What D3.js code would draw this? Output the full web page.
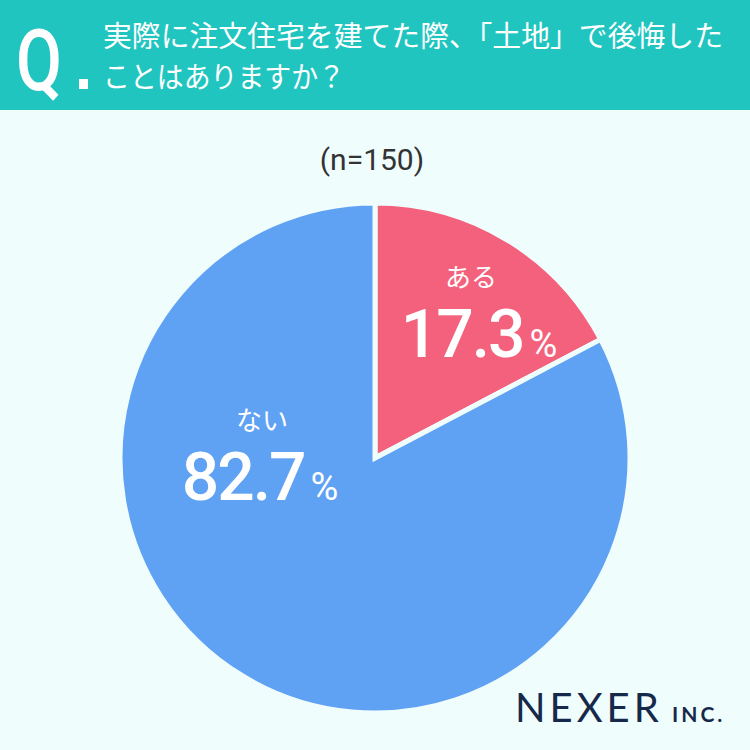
<!DOCTYPE html>
<html>
<head>
<meta charset="utf-8">
<script src="https://cdn.jsdelivr.net/npm/d3@7"></script>
<style>
  body { margin: 0; background: #effdfd; }
  svg { display: block; font-family: "Noto Sans CJK JP", "Noto Sans", sans-serif; }
</style>
</head>
<body>
<svg width="750" height="750"></svg>
<script>
// data
const labels = ["ある", "ない"];
const values = [17.3, 82.7];
const colors = ["#f4617d", "#5fa1f2"];
const sampleNote = "(n=150)";
const titleLines = ["実際に注文住宅を建てた際、「土地」で後悔した", "ことはありますか？"];

const svg = d3.select("svg");
const W = +svg.attr("width"), H = +svg.attr("height");

svg.append("rect").attr("width", W).attr("height", H).attr("fill", "#effdfd");

// header band
svg.append("rect")
  .attr("width", W).attr("height", 110)
  .attr("fill", "#21c5bf");

svg.append("text")
  .attr("x", 16).attr("y", 90)
  .attr("font-family", "Roboto, sans-serif")
  .attr("font-size", 86)
  .attr("font-weight", 500)
  .attr("fill", "#fff")
  .attr("textLength", 46)
  .attr("lengthAdjust", "spacingAndGlyphs")
  .text("Q");
svg.append("rect")
  .attr("x", 79).attr("y", 79).attr("width", 9).attr("height", 10)
  .attr("fill", "#fff");

svg.selectAll(".title")
  .data(titleLines)
  .enter().append("text")
  .attr("class", "title")
  .attr("x", 103)
  .attr("y", (d, i) => 47 + i * 41)
  .attr("font-size", 29)
  .attr("fill", "#fff")
  .attr("textLength", (d, i) => i ? 242 : 620)
  .attr("lengthAdjust", "spacingAndGlyphs")
  .text(d => d);

svg.append("text")
  .attr("x", 372).attr("y", 170)
  .attr("text-anchor", "middle")
  .attr("font-family", "Roboto, sans-serif")
  .attr("font-size", 30)
  .attr("fill", "#333")
  .text(sampleNote);

// pie
const cx = 375, cy = 458, r = 255;
const pie = d3.pie().sort(null).value(d => d);
const arc = d3.arc().innerRadius(0).outerRadius(r);
const g = svg.append("g").attr("transform", "translate(" + cx + "," + cy + ")");

const arcs = pie(values);
g.selectAll("path")
  .data(arcs)
  .enter().append("path")
  .attr("d", arc)
  .attr("fill", (d, i) => colors[i])
  .attr("stroke", "#effdfd")
  .attr("stroke-width", 5)
  .attr("stroke-linejoin", "miter");

// labels
const labelPos = [[104, -101], [-115, 42]];
arcs.forEach(function(d, i) {
  const p = labelPos[i];
  const lg = g.append("g").attr("transform", "translate(" + p[0] + "," + p[1] + ")");
  lg.append("text")
    .attr("x", -8 + (i ? 10 : 0)).attr("y", -70)
    .attr("text-anchor", "middle")
    .attr("font-size", 26)
    .attr("fill", "#fff")
    .text(labels[i]);
  const t = lg.append("text")
    .attr("text-anchor", "middle")
    .attr("font-family", "Roboto, sans-serif")
    .attr("fill", "#fff");
  t.append("tspan")
    .attr("font-size", 66)
    .attr("font-weight", 500)
    .attr("letter-spacing", -2)
    .text(d3.format(".1f")(values[i]));
  t.append("tspan")
    .attr("font-size", 38)
    .attr("dx", 6)
    .text("%");
});

// logo
svg.append("text")
  .attr("x", 515).attr("y", 722)
  .attr("font-family", "Lato, sans-serif")
  .attr("font-size", 40)
  .attr("letter-spacing", 4)
  .attr("fill", "#17294a")
  .text("NEXER");
svg.append("text")
  .attr("x", 672).attr("y", 722)
  .attr("font-family", "Lato, sans-serif")
  .attr("font-size", 21)
  .attr("font-weight", 700)
  .attr("letter-spacing", 3)
  .attr("fill", "#17294a")
  .text("INC.");
</script>
</body>
</html>
